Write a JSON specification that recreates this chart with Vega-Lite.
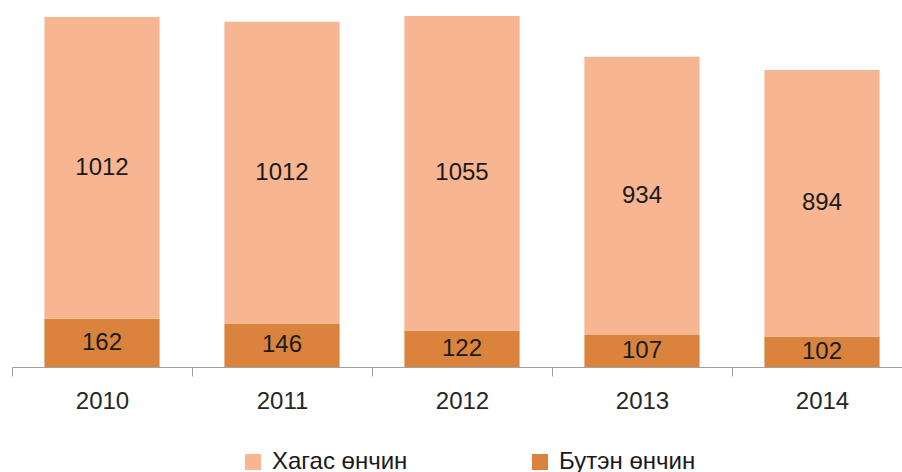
{
  "$schema": "https://vega.github.io/schema/vega-lite/v6.json",
  "autosize": "none",
  "width": 890,
  "height": 367,
  "padding": {"left": 12, "top": 0, "right": 0, "bottom": 105},
  "background": "white",
  "config": {"view": {"stroke": null}, "font": "Liberation Sans"},
  "data": {
    "values": [
      {"year": "2010", "type": "Бутэн өнчин", "value": 162},
      {"year": "2010", "type": "Хагас өнчин", "value": 1012},
      {"year": "2011", "type": "Бутэн өнчин", "value": 146},
      {"year": "2011", "type": "Хагас өнчин", "value": 1012},
      {"year": "2012", "type": "Бутэн өнчин", "value": 122},
      {"year": "2012", "type": "Хагас өнчин", "value": 1055},
      {"year": "2013", "type": "Бутэн өнчин", "value": 107},
      {"year": "2013", "type": "Хагас өнчин", "value": 934},
      {"year": "2014", "type": "Бутэн өнчин", "value": 102},
      {"year": "2014", "type": "Хагас өнчин", "value": 894}
    ]
  },
  "transform": [
    {"stack": "value", "groupby": ["year"], "sort": [{"field": "type", "order": "ascending"}], "as": ["v0", "v1"]},
    {"calculate": "(datum.v0 + datum.v1) / 2", "as": "mid"}
  ],
  "encoding": {
    "x": {
      "field": "year", "type": "nominal",
      "scale": {"range": [0, 900], "paddingInner": 0, "paddingOuter": 0},
      "axis": {
        "title": null, "labelAngle": 0, "labelFontSize": 24, "labelColor": "#262626",
        "labelPadding": 13, "tickBand": "extent", "tickSize": 9,
        "domainColor": "#a0a0a0", "tickColor": "#a0a0a0", "domainWidth": 1, "tickWidth": 1
      }
    }
  },
  "layer": [
    {
      "mark": {"type": "bar", "width": {"band": 0.64}},
      "encoding": {
        "y": {"field": "v0", "type": "quantitative", "scale": {"domain": [0, 1231], "nice": false}, "axis": null},
        "y2": {"field": "v1"},
        "color": {
          "field": "type", "type": "nominal",
          "scale": {"domain": ["Хагас өнчин", "Бутэн өнчин"], "range": ["#F8B592", "#DA833D"]},
          "legend": {
            "title": null, "orient": "none", "direction": "horizontal",
            "legendX": 229, "legendY": 450,
            "symbolType": "square", "symbolSize": 256, "symbolStrokeWidth": 0,
            "labelFontSize": 24, "labelColor": "#1a1a1a", "labelOffset": 7,
            "columnPadding": 120, "labelLimit": 300
          }
        }
      }
    },
    {
      "mark": {"type": "text", "fontSize": 24, "color": "#1a1a1a", "baseline": "middle"},
      "encoding": {
        "y": {"field": "mid", "type": "quantitative"},
        "text": {"field": "value", "type": "quantitative"}
      }
    }
  ]
}
